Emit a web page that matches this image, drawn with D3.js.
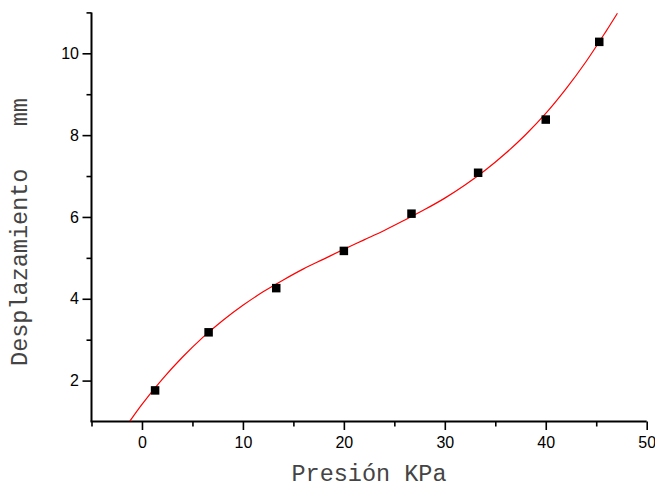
<!DOCTYPE html>
<html>
<head>
<meta charset="utf-8">
<script src="https://cdn.jsdelivr.net/npm/d3@7"></script>
<style>
  html, body { margin: 0; padding: 0; background: #fff; }
  svg { display: block; }
  .tick text { font-family: "Liberation Sans", Arial, sans-serif; font-size: 16px; fill: #000; }
  .axis-title {
    font-family: "Liberation Mono", "Courier New", monospace;
    font-size: 23.5px;
    fill: #444;
    white-space: pre;
  }
</style>
</head>
<body>
<svg id="chart" width="655" height="487"></svg>
<script>
// Measured displacement versus applied pressure
const presion = [1.3, 6.6, 13.3, 20, 26.7, 33.3, 40, 45.3];
const desplazamiento = [1.76, 3.18, 4.26, 5.17, 6.08, 7.08, 8.38, 10.28];

// Fitted trend line, sampled along its length
const ajusteX = [-1.2, 0, 2, 4, 6, 8, 10, 12, 14, 16, 18, 20, 22, 24, 26, 28, 30, 32, 34, 36, 38, 40, 42, 44, 46, 47.1];
const ajusteY = [1.01, 1.42, 2.03, 2.57, 3.05, 3.47, 3.84, 4.17, 4.46, 4.73, 4.97, 5.21, 5.44, 5.67, 5.92, 6.18, 6.46, 6.78, 7.14, 7.55, 8.01, 8.53, 9.13, 9.80, 10.55, 10.98];

// Axis ticks
const xMajor = [0, 10, 20, 30, 40, 50];
const xMinor = [-5, 5, 15, 25, 35, 45];
const yMajor = [2, 4, 6, 8, 10];
const yMinor = [3, 5, 7, 9, 11];

const xLabel = "Presión KPa";
const yLabel = "Desplazamiento   mm";

const svg = d3.select("#chart");

const x = d3.scaleLinear().domain([-5, 50]).range([91.5, 646.7]);
const y = d3.scaleLinear().domain([1, 11]).range([421.5, 12.4]);

const styleTicks = g => {
  g.select(".domain").remove();
  g.selectAll("line").attr("stroke", "#000").attr("stroke-width", 1.6);
};

// Minor ticks
svg.append("g")
  .attr("transform", `translate(0,${y(1)})`)
  .call(d3.axisBottom(x).tickValues(xMinor).tickSize(5).tickFormat(""))
  .call(styleTicks);

svg.append("g")
  .attr("transform", `translate(${x(-5)},0)`)
  .call(d3.axisLeft(y).tickValues(yMinor).tickSize(5).tickFormat(""))
  .call(styleTicks);

// Major ticks with labels
svg.append("g")
  .attr("transform", `translate(0,${y(1)})`)
  .call(d3.axisBottom(x).tickValues(xMajor).tickSize(8.5).tickPadding(7).tickFormat(d3.format("d")))
  .call(styleTicks);

svg.append("g")
  .attr("transform", `translate(${x(-5)},0)`)
  .call(d3.axisLeft(y).tickValues(yMajor).tickSize(9).tickPadding(3.5).tickFormat(d3.format("d")))
  .call(styleTicks);

// Axis lines
svg.append("line")
  .attr("x1", x(-5) - 1).attr("x2", x(50))
  .attr("y1", y(1)).attr("y2", y(1))
  .attr("stroke", "#000").attr("stroke-width", 2);
svg.append("line")
  .attr("x1", x(-5)).attr("x2", x(-5))
  .attr("y1", y(1)).attr("y2", y(11))
  .attr("stroke", "#000").attr("stroke-width", 2);

// Fitted curve
const ajuste = ajusteX.map((v, i) => [v, ajusteY[i]]);
svg.append("path")
  .datum(ajuste)
  .attr("fill", "none")
  .attr("stroke", "#ff0000")
  .attr("stroke-width", 1.2)
  .attr("d", d3.line().x(d => x(d[0])).y(d => y(d[1])).curve(d3.curveCatmullRom.alpha(0.5)));

// Data markers
const size = 8.5;
svg.append("g")
  .selectAll("rect")
  .data(presion.map((v, i) => [v, desplazamiento[i]]))
  .join("rect")
  .attr("x", d => x(d[0]) - size / 2)
  .attr("y", d => y(d[1]) - size / 2)
  .attr("width", size)
  .attr("height", size)
  .attr("fill", "#000");

// Axis titles
svg.append("text")
  .attr("class", "axis-title")
  .attr("x", 369)
  .attr("y", 481)
  .attr("text-anchor", "middle")
  .text(xLabel);

svg.append("text")
  .attr("class", "axis-title")
  .attr("transform", "translate(27,232) rotate(-90)")
  .attr("text-anchor", "middle")
  .text(yLabel);
</script>
</body>
</html>
